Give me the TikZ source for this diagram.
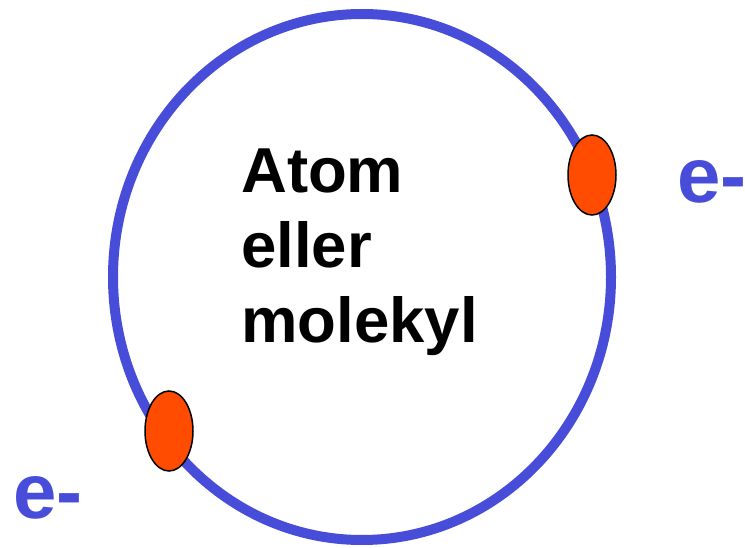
\documentclass[tikz,border=0pt]{standalone}
\usepackage{fontspec}
\setmainfont{Liberation Sans}
\usepackage{xcolor}
\definecolor{orbitblue}{HTML}{474DD9}
\definecolor{electronred}{HTML}{FF4C00}
\usetikzlibrary{shapes.geometric, positioning}

\begin{document}
\begin{tikzpicture}[
        x=1pt, y=-1pt,
        orbit_node/.style={
            ellipse,
            draw=orbitblue,
            line width=10pt,
            minimum width=498pt,
            minimum height=526pt
        },
        electron_node/.style={
            ellipse,
            draw=black,
            fill=electronred,
            line width=1.5pt,
            minimum width=48pt,
            minimum height=80pt,
            inner sep=0pt
        },
        charge_label/.style={
            anchor=base west,
            inner sep=0pt,
            text=orbitblue,
            font=\fontsize{78}{78}\selectfont\bfseries
        }
    ]
    \useasboundingbox (0,0) rectangle (745,548);

    % Orbit
    \node[orbit_node] (orbit) at (362,277) {};

    % Text in the middle
    \node[anchor=base west, inner sep=0pt, align=left,
          font=\fontsize{63.5}{75.5}\selectfont\bfseries] (name) at (241,343)
          {Atom\\eller\\molekyl};

    % Electrons
    \node[electron_node] (eright) at (592,175) {};
    \node[electron_node] (eleft) at (169,431) {};

    % Labels
    \node[charge_label] (qright) at (677,203) {e-};
    \node[charge_label] (qleft) at (13,518) {e-};

\end{tikzpicture}
\end{document}
